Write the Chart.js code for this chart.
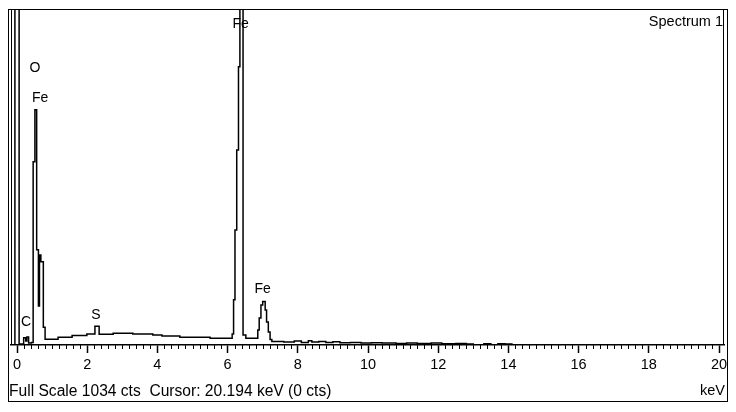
<!DOCTYPE html>
<html>
<head>
<meta charset="utf-8">
<script src="https://cdn.jsdelivr.net/npm/chart.js@4.4.1/dist/chart.umd.min.js"></script>
<style>
  html, body { margin: 0; padding: 0; background: #fff; }
</style>
</head>
<body>
<canvas id="spectrumChart" width="736" height="412"></canvas>
<script>
// Espectro EDS - bordes izquierdos de cada canal (keV) y cuentas
const energies = [
  -0.17, -0.06, 0.06, 0.19, 0.25, 0.28, 0.33, 0.41,
  0.46, 0.51, 0.56, 0.61, 0.64, 0.68, 0.75, 0.80,
  1.17, 1.57, 1.99, 2.22, 2.34, 2.74, 3.30, 3.87, 4.13, 4.64, 5.50,
  6.13, 6.17, 6.21, 6.26, 6.31, 6.35, 6.44, 6.52,
  6.86, 6.90, 6.95, 7.00, 7.07, 7.11, 7.16, 7.21, 7.26,
  7.60, 7.90, 8.10, 8.30, 8.40, 8.60, 8.80, 9.00, 9.20, 9.50, 9.80,
  10.1, 10.4, 10.8, 11.1, 11.4, 11.8, 12.1, 12.5, 12.8, 13.0, 13.3,
  13.5, 13.7, 13.9, 14.1, 20.15
];
const counts = [
  0, 5000, 3, 22, 12, 25, 6, 8,
  564, 724, 293, 120, 277, 256, 55, 18,
  24, 29, 34, 58, 33, 36, 34, 31, 28, 24, 21,
  34, 139, 354, 600, 856, 1034, 31, 21,
  46, 83, 123, 134, 108, 71, 40, 17, 11,
  9, 12, 8, 13, 9, 11, 8, 10, 7, 8, 6,
  7, 6, 5, 6, 5, 6, 4, 5, 3, 0, 4,
  0, 4, 3, 0, 0
];
const tickValues = [0, 2, 4, 6, 8, 10, 12, 14, 16, 18, 20];

// Etiquetas de elementos (keV, cuentas)
const peakNames = ['C', 'O', 'Fe', 'S', 'Fe', 'Fe'];
const peakEnergies = [0.26, 0.51, 0.66, 2.25, 6.37, 7.00];
const peakCounts = [69, 853, 761, 92, 986, 172];

const fullScale = 1034;
const footerText = 'Full Scale 1034 cts  Cursor: 20.194 keV (0 cts)';
const fontFamily = '"Liberation Sans", Arial, sans-serif';

const framePlugin = {
    id: 'frame',
    afterDraw(chart) {
        const ctx = chart.ctx;
        const area = chart.chartArea;
        const x = chart.scales.x;
        const y = chart.scales.y;
        ctx.save();
        ctx.strokeStyle = '#000';
        ctx.lineWidth = 1;

        // marco exterior
        ctx.strokeRect(8.5, 9.5, 719, 392);
        // bordes del area del grafico
        ctx.beginPath();
        ctx.moveTo(area.left + 0.5, 9); ctx.lineTo(area.left + 0.5, area.bottom);
        ctx.moveTo(area.right - 0.5, 9); ctx.lineTo(area.right - 0.5, area.bottom);
        ctx.moveTo(8, 9.5); ctx.lineTo(728, 9.5);
        ctx.stroke();

        // marcas menores cada 0.2 keV
        ctx.beginPath();
        for (let i = 1; i < 100; i++) {
            if (i % 10 === 0) continue;
            const px = Math.round(x.getPixelForValue(i * 0.2)) + 0.5;
            ctx.moveTo(px, area.bottom);
            ctx.lineTo(px, area.bottom + 4);
        }
        ctx.stroke();

        // textos
        ctx.fillStyle = '#000';
        ctx.font = '14px ' + fontFamily;
        ctx.textBaseline = 'middle';
        ctx.textAlign = 'center';
        peakNames.forEach((name, i) => {
            ctx.fillText(name, x.getPixelForValue(peakEnergies[i]), y.getPixelForValue(peakCounts[i]));
        });

        ctx.font = '14.5px ' + fontFamily;
        ctx.textAlign = 'right';
        ctx.fillText('Spectrum 1', 723, 22);
        ctx.fillText('keV', 725, 391);
        ctx.font = '15.6px ' + fontFamily;
        ctx.textAlign = 'left';
        ctx.fillText(footerText, 9, 392);
        ctx.restore();
    }
};

const ctx = document.getElementById('spectrumChart').getContext('2d');
const spectrumChart = new Chart(ctx, {
    type: 'line',
    data: {
        datasets: [{
            label: 'Spectrum 1',
            data: energies.map((e, i) => ({ x: e, y: counts[i] })),
            borderColor: '#000',
            borderWidth: 1.5,
            pointRadius: 0,
            stepped: true,
            fill: false
        }]
    },
    options: {
        responsive: false,
        devicePixelRatio: 1,
        animation: false,
        layout: {
            padding: { left: 11, right: 12, top: 9, bottom: 37 }
        },
        plugins: {
            legend: { display: false },
            tooltip: { enabled: false }
        },
        scales: {
            x: {
                type: 'linear',
                min: -0.171,
                max: 20.142,
                afterBuildTicks: s => { s.ticks = tickValues.map(v => ({ value: v })); },
                afterFit: s => { s.height = 30; },
                ticks: {
                    color: '#000',
                    font: { family: fontFamily, size: 14.5 },
                    padding: 3,
                    maxRotation: 0,
                    autoSkip: false
                },
                grid: {
                    drawOnChartArea: false,
                    color: '#000',
                    tickLength: 8,
                    tickWidth: 1.5
                },
                border: { color: '#000', width: 1.5 }
            },
            y: {
                display: false,
                min: 0,
                max: fullScale
            }
        }
    },
    plugins: [framePlugin]
});
</script>
</body>
</html>
